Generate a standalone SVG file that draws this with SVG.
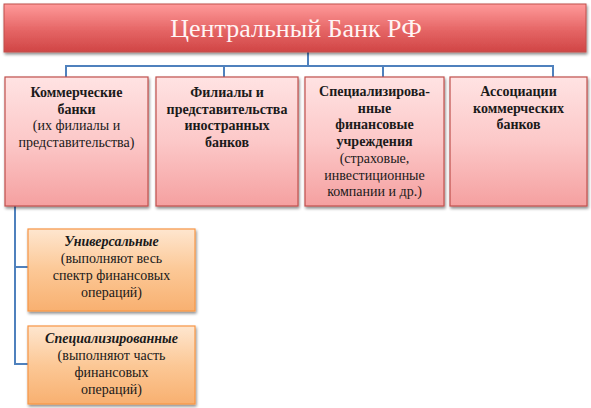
<svg xmlns="http://www.w3.org/2000/svg" width="591" height="408" viewBox="0 0 591 408">
<defs>
<linearGradient id="gTop" x1="0" y1="0" x2="0" y2="1">
<stop offset="0" stop-color="#ff9a9a"/>
<stop offset="0.55" stop-color="#e56565"/>
<stop offset="1" stop-color="#d04545"/>
</linearGradient>
<linearGradient id="gPink" x1="0" y1="0" x2="0" y2="1">
<stop offset="0" stop-color="#ffe3e3"/>
<stop offset="0.5" stop-color="#fcc8c8"/>
<stop offset="1" stop-color="#f5a0a0"/>
</linearGradient>
<linearGradient id="gOrange" x1="0" y1="0" x2="0" y2="1">
<stop offset="0" stop-color="#fee6cf"/>
<stop offset="0.5" stop-color="#fcc896"/>
<stop offset="1" stop-color="#f8b070"/>
</linearGradient>
<filter id="sh" x="-10%" y="-10%" width="120%" height="130%">
<feGaussianBlur in="SourceAlpha" stdDeviation="1.5"/>
<feOffset dx="1" dy="2" result="b"/>
<feComponentTransfer><feFuncA type="linear" slope="0.45"/></feComponentTransfer>
<feMerge><feMergeNode/><feMergeNode in="SourceGraphic"/></feMerge>
</filter>
</defs>
<style>
.top{fill:url(#gTop);stroke:#c0504d;stroke-width:1}
.pink{fill:url(#gPink);stroke:#c0504d;stroke-width:1.2}
.orange{fill:url(#gOrange);stroke:#f79646;stroke-width:1.2}
.t{font-family:"Liberation Serif",serif;font-size:14px;text-anchor:middle;fill:#1a1a1a}
.b{font-weight:bold}
.bi{font-weight:bold;font-style:italic}
.title{font-family:"Liberation Serif",serif;font-size:26px;text-anchor:middle;fill:#fff4f4}
.conn{fill:none;stroke:#4f81bd;stroke-width:2}
</style>
<g id="connectors">
<path class="conn" d="M308 52 V66"/>
<path class="conn" d="M66 77 V66 H553 V77"/>
<path class="conn" d="M224 66 V77"/>
<path class="conn" d="M383 66 V77"/>
<path class="conn" d="M15 206 V364 H28"/>
<path class="conn" d="M15 267 H28"/>
</g>
<g id="central">
<rect class="top" x="4" y="4" width="582" height="48" filter="url(#sh)"/>
<text class="title" x="296" y="37">Центральный Банк РФ</text>
</g>
<g id="commercial">
<rect class="pink" x="5" y="77" width="143" height="129" filter="url(#sh)"/>
<text class="t" x="76.5" y="97"><tspan class="b">Коммерческие</tspan><tspan class="b" x="76.5" dy="16.5">банки</tspan><tspan x="76.5" dy="16.5">(их филиалы и</tspan><tspan x="76.5" dy="16.5">представительства)</tspan></text>
</g>
<g id="foreign">
<rect class="pink" x="156" y="77" width="142" height="129" filter="url(#sh)"/>
<text class="t b" x="227" y="97"><tspan>Филиалы и</tspan><tspan x="227" dy="16.5">представительства</tspan><tspan x="227" dy="16.5">иностранных</tspan><tspan x="227" dy="16.5">банков</tspan></text>
</g>
<g id="specialized-inst">
<rect class="pink" x="305" y="77" width="139" height="129" filter="url(#sh)"/>
<text class="t" x="374.5" y="96"><tspan class="b">Специализирова-</tspan><tspan class="b" x="374.5" dy="16.7">нные</tspan><tspan class="b" x="374.5" dy="16.7">финансовые</tspan><tspan class="b" x="374.5" dy="16.7">учреждения</tspan><tspan x="374.5" dy="16.7">(страховые,</tspan><tspan x="374.5" dy="16.7">инвестиционные</tspan><tspan x="374.5" dy="16.7">компании и др.)</tspan></text>
</g>
<g id="associations">
<rect class="pink" x="450" y="77" width="137" height="129" filter="url(#sh)"/>
<text class="t b" x="518.5" y="96"><tspan>Ассоциации</tspan><tspan x="518.5" dy="16.5">коммерческих</tspan><tspan x="518.5" dy="16.5">банков</tspan></text>
</g>
<g id="universal">
<rect class="orange" x="28" y="229" width="167" height="82" filter="url(#sh)"/>
<text class="t" x="111.5" y="246"><tspan class="bi">Универсальные</tspan><tspan x="111.5" dy="17">(выполняют весь</tspan><tspan x="111.5" dy="17">спектр финансовых</tspan><tspan x="111.5" dy="17">операций)</tspan></text>
</g>
<g id="specialized">
<rect class="orange" x="28" y="326" width="167" height="78" filter="url(#sh)"/>
<text class="t" x="111.5" y="343"><tspan class="bi">Специализированные</tspan><tspan x="111.5" dy="17">(выполняют часть</tspan><tspan x="111.5" dy="17">финансовых</tspan><tspan x="111.5" dy="17">операций)</tspan></text>
</g>
</svg>
